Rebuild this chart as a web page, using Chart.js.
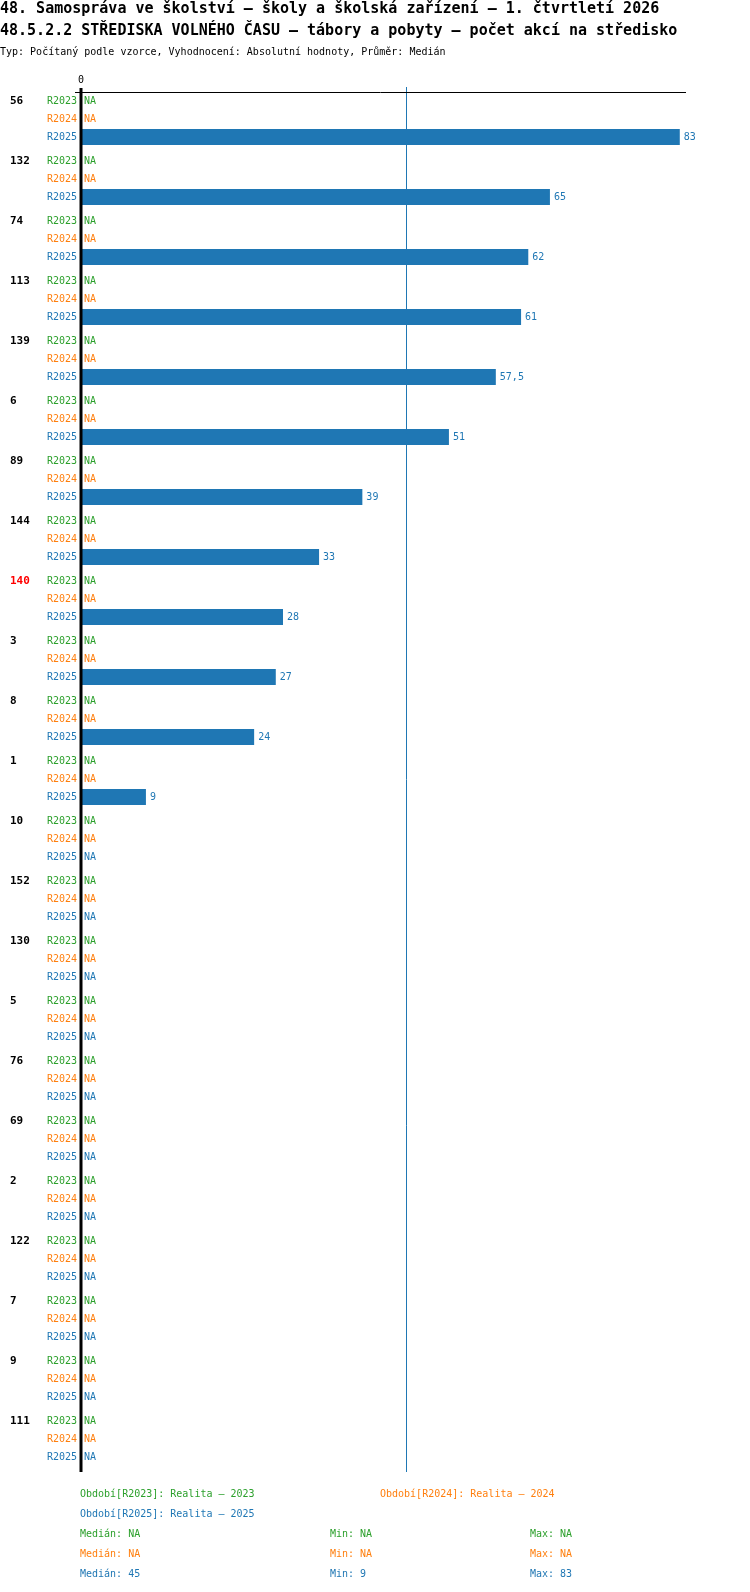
<!DOCTYPE html>
<html lang="cs">
<head>
<meta charset="utf-8">
<script src="https://cdn.jsdelivr.net/npm/chart.js@4.4.1/dist/chart.umd.min.js"></script>
<style>
    body { margin: 0; background: #fff; font-family: "DejaVu Sans Mono", monospace; }
    #obal { position: relative; width: 750px; height: 1592px; }
    #graf { position: absolute; left: 0; top: 0; }
    .tit { position: absolute; left: 0; white-space: pre; font-size: 15px; font-weight: bold; line-height: 16px; color: #000; }
    .txt { position: absolute; white-space: pre; font-size: 10px; line-height: 12px; }
</style>
</head>
<body>
<div id="obal">
    <canvas id="graf" width="750" height="1592"></canvas>
    <div class="tit" style="top:0px">48. Samospráva ve školství – školy a školská zařízení – 1. čtvrtletí 2026</div>
    <div class="tit" style="top:22px">48.5.2.2 STŘEDISKA VOLNÉHO ČASU – tábory a pobyty – počet akcí na středisko</div>
    <div class="txt" style="top:46px; left:0; color:#000">Typ: Počítaný podle vzorce, Vyhodnocení: Absolutní hodnoty, Průměr: Medián</div>
    <div id="legenda"></div>
</div>
<script>
// data
var kategorie = ['56', '132', '74', '113', '139', '6', '89', '144', '140', '3', '8', '1',
    '10', '152', '130', '5', '76', '69', '2', '122', '7', '9', '111'];
var zvyraznena = ['140'];
var obdobi = ['R2023', 'R2024', 'R2025'];
var popisObdobi = ['Realita – 2023', 'Realita – 2024', 'Realita – 2025'];
var hodnoty2023 = [null, null, null, null, null, null, null, null, null, null, null, null,
    null, null, null, null, null, null, null, null, null, null, null];
var hodnoty2024 = [null, null, null, null, null, null, null, null, null, null, null, null,
    null, null, null, null, null, null, null, null, null, null, null];
var hodnoty2025 = [83, 65, 62, 61, 57.5, 51, 39, 33, 28, 27, 24, 9,
    null, null, null, null, null, null, null, null, null, null, null];
var barvy = ['#2ca02c', '#ff7f0e', '#1f77b4'];

function platne(arr) {
    return arr.filter(function (v) { return v != null; });
}
function median(arr) {
    var s = platne(arr).sort(function (a, b) { return a - b; });
    if (!s.length) return null;
    var m = Math.floor(s.length / 2);
    return s.length % 2 ? s[m] : (s[m - 1] + s[m]) / 2;
}
function formatCislo(v) {
    if (v == null) return 'NA';
    return String(v).replace('.', ',');
}

var serie = [hodnoty2023, hodnoty2024, hodnoty2025];

// legenda a statistiky pod grafem
var legenda = document.getElementById('legenda');
function pridejText(text, x, y, barva) {
    var el = document.createElement('div');
    el.className = 'txt';
    el.style.left = x + 'px';
    el.style.top = (y - 6) + 'px';
    el.style.color = barva;
    el.textContent = text;
    legenda.appendChild(el);
}
obdobi.forEach(function (o, i) {
    pridejText('Období[' + o + ']: ' + popisObdobi[i], 80 + (i % 2) * 300, 1494 + Math.floor(i / 2) * 20, barvy[i]);
});
serie.forEach(function (s, i) {
    var p = platne(s);
    var y = 1534 + i * 20;
    pridejText('Medián: ' + formatCislo(median(s)), 80, y, barvy[i]);
    pridejText('Min: ' + formatCislo(p.length ? Math.min.apply(null, p) : null), 330, y, barvy[i]);
    pridejText('Max: ' + formatCislo(p.length ? Math.max.apply(null, p) : null), 530, y, barvy[i]);
});

var popisky = {
    id: 'popisky',
    afterDatasetsDraw: function (chart) {
        var ctx = chart.ctx;
        var x = chart.scales.x;
        var area = chart.chartArea;
        var x0 = x.getPixelForValue(0);
        ctx.save();

        // median 2025
        var med = median(hodnoty2025);
        if (med != null) {
            var xm = Math.round(x.getPixelForValue(med)) + 0.5;
            ctx.strokeStyle = barvy[2];
            ctx.lineWidth = 1;
            ctx.beginPath();
            ctx.moveTo(xm, area.top - 2);
            ctx.lineTo(xm, area.bottom + 3);
            ctx.stroke();
        }

        // horni cara a osa
        ctx.strokeStyle = '#000';
        ctx.lineWidth = 1;
        ctx.beginPath();
        ctx.moveTo(x0 - 6, area.top + 3.5);
        ctx.lineTo(area.right - 1, area.top + 3.5);
        ctx.stroke();
        ctx.lineWidth = 3;
        ctx.beginPath();
        ctx.moveTo(x0, area.top - 1);
        ctx.lineTo(x0, area.bottom + 3);
        ctx.stroke();

        ctx.textBaseline = 'middle';
        ctx.font = '10px "DejaVu Sans Mono"';
        ctx.fillStyle = '#000';
        ctx.textAlign = 'center';
        ctx.fillText('0', x0, area.top - 9);

        chart.data.datasets.forEach(function (ds, d) {
            var meta = chart.getDatasetMeta(d);
            meta.data.forEach(function (bar, i) {
                var v = ds.data[i];
                ctx.font = '10px "DejaVu Sans Mono"';
                ctx.fillStyle = barvy[d];
                ctx.textAlign = 'right';
                ctx.fillText(obdobi[d], x0 - 4, bar.y);
                ctx.textAlign = 'left';
                if (v == null) {
                    ctx.fillText('NA', x0 + 3, bar.y);
                } else {
                    ctx.fillText(formatCislo(v), bar.x + 4, bar.y);
                }
                if (d === 0) {
                    ctx.font = 'bold 11px "DejaVu Sans Mono"';
                    ctx.fillStyle = zvyraznena.indexOf(kategorie[i]) >= 0 ? '#ff0000' : '#000';
                    ctx.fillText(kategorie[i], 10, bar.y);
                }
            });
        });
        ctx.restore();
    }
};

new Chart(document.getElementById('graf').getContext('2d'), {
    type: 'bar',
    data: {
        labels: kategorie,
        datasets: obdobi.map(function (o, i) {
            return {
                label: o,
                data: serie[i],
                backgroundColor: barvy[i],
                borderWidth: 0,
                barPercentage: 0.89,
                categoryPercentage: 0.9
            };
        })
    },
    options: {
        indexAxis: 'y',
        responsive: false,
        animation: false,
        devicePixelRatio: 1,
        layout: {
            padding: { top: 89, bottom: 123, left: 81, right: 63 }
        },
        plugins: {
            legend: { display: false },
            tooltip: { enabled: false }
        },
        scales: {
            x: { type: 'linear', min: 0, max: 84, display: false },
            y: { type: 'category', display: false, offset: true }
        }
    },
    plugins: [popisky]
});
</script>
</body>
</html>
